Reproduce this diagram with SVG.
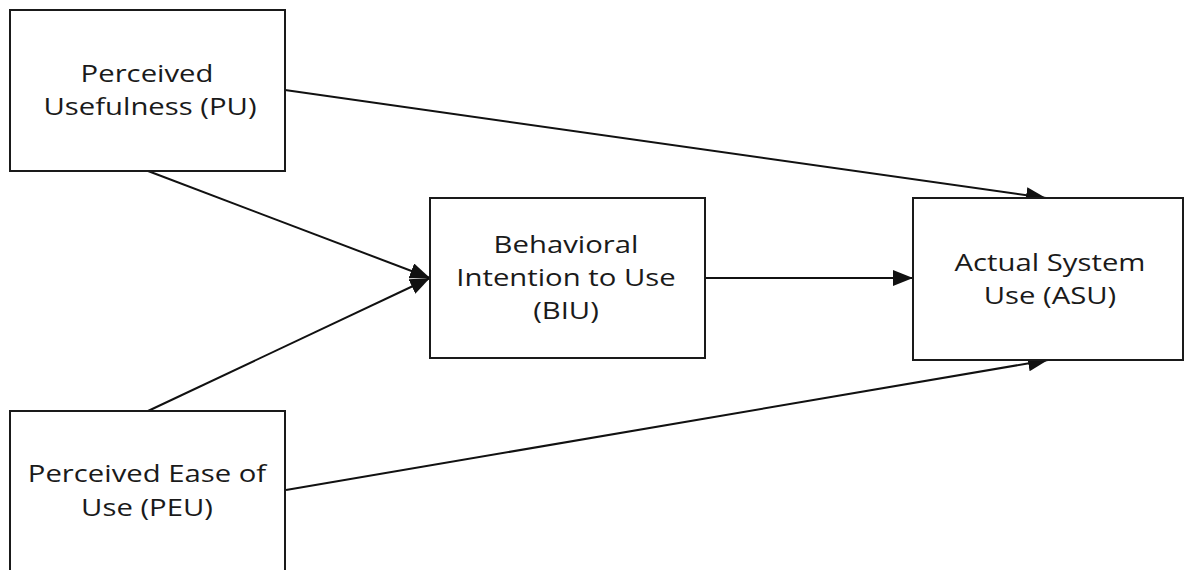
<svg xmlns="http://www.w3.org/2000/svg" width="1186" height="570" viewBox="0 0 1186 570">
<style>
.box{fill:#fff;stroke:#1a1a1a;stroke-width:2}
.lbl{font-family:"Open Sans","DejaVu Sans",sans-serif;font-size:24px;fill:#1a1a1a;text-anchor:middle}
.conn{stroke:#111;stroke-width:2;fill:none;marker-end:url(#ah)}
</style>
<defs>
<marker id="ah" markerUnits="userSpaceOnUse" markerWidth="22" markerHeight="16" refX="20" refY="8" orient="auto">
<path d="M0,0 L20,8 L0,16 Z" fill="#111"/>
</marker>
</defs>
<rect width="1186" height="570" fill="#fff"/>
<g id="connectors">
<line class="conn" x1="285" y1="90" x2="1046" y2="198"/>
<line class="conn" x1="148" y1="171" x2="430" y2="278"/>
<line class="conn" x1="148" y1="411" x2="430" y2="278"/>
<line class="conn" x1="705" y1="278" x2="913" y2="278"/>
<line class="conn" x1="286" y1="490" x2="1048" y2="360"/>
</g>
<g id="pu">
<rect class="box" x="10" y="10" width="275" height="161"/>
<text class="lbl" transform="translate(147,82) scale(1.22,1)">Perceived</text>
<text class="lbl" transform="translate(150,115) scale(1.22,1)">Usefulness (PU)</text>
</g>
<g id="peu">
<rect class="box" x="10" y="411" width="275" height="170"/>
<text class="lbl" transform="translate(147,482) scale(1.22,1)">Perceived Ease of</text>
<text class="lbl" transform="translate(147,516) scale(1.22,1)">Use (PEU)</text>
</g>
<g id="biu">
<rect class="box" x="430" y="198" width="275" height="160"/>
<text class="lbl" transform="translate(566,253) scale(1.22,1)">Behavioral</text>
<text class="lbl" transform="translate(566,286) scale(1.22,1)">Intention to Use</text>
<text class="lbl" transform="translate(566,319) scale(1.22,1)">(BIU)</text>
</g>
<g id="asu">
<rect class="box" x="913" y="198" width="270" height="162"/>
<text class="lbl" transform="translate(1050,271) scale(1.22,1)">Actual System</text>
<text class="lbl" transform="translate(1050,304) scale(1.22,1)">Use (ASU)</text>
</g>
</svg>
